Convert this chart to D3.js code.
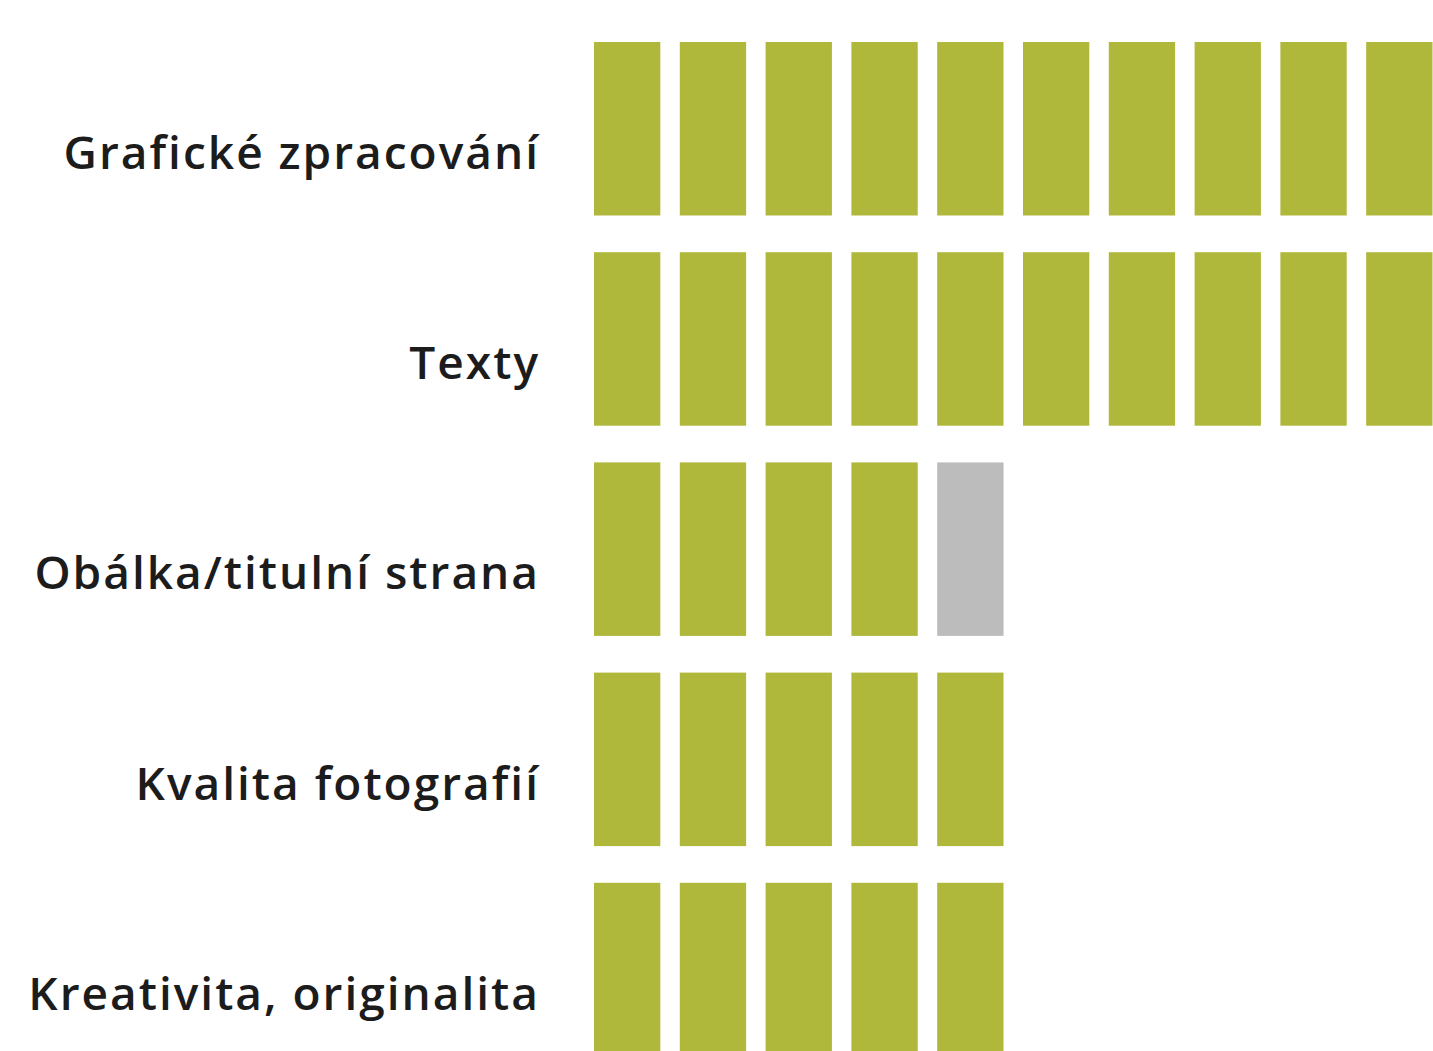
<!DOCTYPE html>
<html>
<head>
<meta charset="utf-8">
<script src="https://cdn.jsdelivr.net/npm/d3@7"></script>
<style>
  body { margin: 0; background: #ffffff; }
  svg { display: block; }
</style>
</head>
<body>
<div id="chart"></div>
<script>
// Categories and how many blocks each one gets
const categories = [
  'Grafické zpracování',
  'Texty',
  'Obálka/titulní strana',
  'Kvalita fotografií',
  'Kreativita, originalita'
];
const filled = [10, 10, 4, 5, 5];   // green blocks
const empty = [0, 0, 1, 0, 0];      // grey blocks
const maxBlocks = 10;

const svgWidth = 1433;
const svgHeight = 1051;

const svg = d3.select('#chart')
  .append('svg')
  .attr('width', svgWidth)
  .attr('height', svgHeight);

// Rows: one band per category
const yScale = d3.scaleBand()
  .domain(categories)
  .range([42, 1056.3])
  .paddingInner(0.1746)
  .paddingOuter(0);

// Columns: one band per block
const xScale = d3.scaleBand()
  .domain(d3.range(maxBlocks))
  .range([594, 1432.5])
  .paddingInner(0.227)
  .paddingOuter(0);

const data = categories.map((name, i) => ({
  name: name,
  filled: filled[i],
  empty: empty[i]
}));

const rows = svg.selectAll('.row')
  .data(data)
  .enter().append('g')
  .attr('class', 'row')
  .attr('transform', d => 'translate(0,' + yScale(d.name) + ')');

rows.selectAll('rect')
  .data(d => d3.range(d.filled + d.empty).map(j => ({ j: j, on: j < d.filled })))
  .enter().append('rect')
  .attr('x', d => xScale(d.j))
  .attr('y', 0)
  .attr('width', xScale.bandwidth())
  .attr('height', yScale.bandwidth())
  .style('fill', d => d.on ? '#afb83b' : '#bcbcbc');

// Labels
rows.append('text')
  .attr('x', 540)
  .attr('y', 127)
  .style('text-anchor', 'end')
  .style('font-family', '"Open Sans", "Noto Sans", sans-serif')
  .style('font-weight', 600)
  .style('font-size', '46px')
  .style('letter-spacing', '2px')
  .style('fill', '#1c1c1c')
  .text(d => d.name);
</script>
</body>
</html>
